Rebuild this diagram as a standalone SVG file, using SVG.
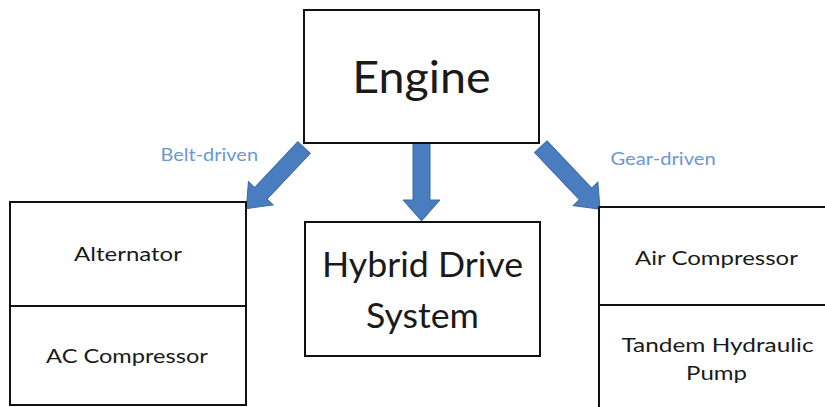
<svg xmlns="http://www.w3.org/2000/svg" width="825" height="407" viewBox="0 0 825 407">
  <style>
    .box { fill: #ffffff; stroke: #111111; stroke-width: 2; }
    .div { stroke: #111111; stroke-width: 2; fill: none; }
    .lbl { font-family: Lato, "Open Sans", sans-serif; fill: #1a1a1a; text-anchor: middle; }
    .sm { font-size: 20px; }
    .note { font-family: Lato, "Open Sans", sans-serif; fill: #6b98d3; font-size: 18px; }
    .arrow { fill: #4a7dc0; stroke: #3d69a6; stroke-width: 1; }
  </style>
  <rect width="825" height="407" fill="#ffffff"/>

  <!-- connectors: block arrows from the engine -->
  <g id="connectors">
    <polygon class="arrow" transform="translate(304,147.5) rotate(133.3)" points="0,-8.5 63,-8.5 63,-17 84,0 63,17 63,8.5 0,8.5"/>
    <polygon class="arrow" transform="translate(421.5,143) rotate(90)" points="0,-8.5 57,-8.5 57,-18.5 78,0 57,18.5 57,8.5 0,8.5"/>
    <polygon class="arrow" transform="translate(540.8,146.7) rotate(46.5)" points="0,-8.5 65,-8.5 65,-17 86,0 65,17 65,8.5 0,8.5"/>
    <text class="note" transform="translate(160.5,161) scale(1.11,1)">Belt-driven</text>
    <text class="note" transform="translate(610.5,165) scale(1.12,1)">Gear-driven</text>
  </g>

  <g id="engine">
    <rect class="box" x="304" y="10" width="235" height="133"/>
    <text class="lbl" transform="translate(421.5,93) scale(1.06,1)" font-size="44">Engine</text>
  </g>

  <g id="hybrid-drive">
    <rect class="box" x="305" y="222" width="235" height="134"/>
    <text class="lbl" transform="translate(422.5,277) scale(1.05,1)" font-size="34">Hybrid Drive</text>
    <text class="lbl" transform="translate(422.5,328) scale(1.05,1)" font-size="34">System</text>
  </g>

  <g id="belt-accessories">
    <rect class="box" x="10" y="202" width="236" height="203"/>
    <line class="div" x1="10" y1="306" x2="246" y2="306"/>
    <text class="lbl sm" transform="translate(128,261) scale(1.2,1)">Alternator</text>
    <text class="lbl sm" transform="translate(127,363) scale(1.18,1)">AC Compressor</text>
  </g>

  <g id="gear-accessories">
    <rect class="box" x="599" y="207" width="240" height="210"/>
    <line class="div" x1="599" y1="305" x2="839" y2="305"/>
    <text class="lbl sm" transform="translate(716.5,265) scale(1.2,1)">Air Compressor</text>
    <text class="lbl sm" transform="translate(717.5,352) scale(1.22,1)">Tandem Hydraulic</text>
    <text class="lbl sm" transform="translate(716.5,380) scale(1.2,1)">Pump</text>
  </g>
</svg>
